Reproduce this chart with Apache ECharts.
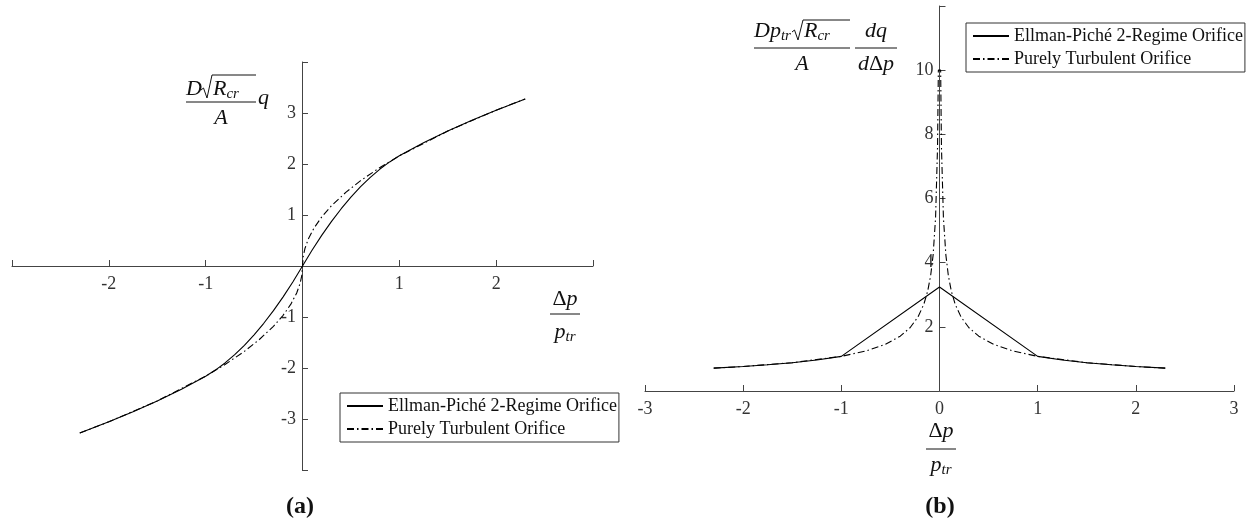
<!DOCTYPE html>
<html>
<head>
<meta charset="utf-8">
<script src="https://cdn.jsdelivr.net/npm/echarts@6/dist/echarts.min.js"></script>
<style>
  html, body { margin: 0; padding: 0; background: #ffffff; }
  #chart { width: 1256px; height: 529px; }
</style>
</head>
<body>
<div id="chart"></div>
<script>
// Series names
const NAME_EP = 'Ellman-Piché 2-Regime Orifice';
const NAME_TURB = 'Purely Turbulent Orifice';

// (a) normalised flow rate vs normalised pressure drop
const flowEpX = [-2.3, -2, -1.75, -1.5, -1.25, -1, -0.9, -0.8, -0.7, -0.6, -0.5, -0.4, -0.3, -0.2, -0.1, 0,
                 0.1, 0.2, 0.3, 0.4, 0.5, 0.6, 0.7, 0.8, 0.9, 1, 1.25, 1.5, 1.75, 2, 2.3];
const flowEpY = [-3.276, -3.055, -2.857, -2.645, -2.415, -2.16, -2.041, -1.901, -1.739, -1.555, -1.35, -1.123, -0.875, -0.605, -0.313, 0,
                 0.313, 0.605, 0.875, 1.123, 1.35, 1.555, 1.739, 1.901, 2.041, 2.16, 2.415, 2.645, 2.857, 3.055, 3.276];
const flowTurbX = [-2.3, -2, -1.5, -1, -0.8, -0.6, -0.45, -0.3, -0.2, -0.12, -0.06, -0.025, -0.008, 0,
                   0.008, 0.025, 0.06, 0.12, 0.2, 0.3, 0.45, 0.6, 0.8, 1, 1.5, 2, 2.3];
const flowTurbY = [-3.276, -3.055, -2.645, -2.16, -1.932, -1.673, -1.449, -1.183, -0.966, -0.748, -0.529, -0.342, -0.193, 0,
                   0.193, 0.342, 0.529, 0.748, 0.966, 1.183, 1.449, 1.673, 1.932, 2.16, 2.645, 3.055, 3.276];

// (b) normalised flow gain dq/dΔp
const gainEpX = [-2.3, -2, -1.75, -1.5, -1.25, -1, 0, 1, 1.25, 1.5, 1.75, 2, 2.3];
const gainEpY = [0.712, 0.764, 0.816, 0.882, 0.966, 1.08, 3.24, 1.08, 0.966, 0.882, 0.816, 0.764, 0.712];
const gainTurbX = [-2.3, -2, -1.5, -1, -0.75, -0.55, -0.4, -0.3, -0.22, -0.16, -0.12, -0.09, -0.065, -0.04, -0.02, -0.0117,
                   0.0117, 0.02, 0.04, 0.065, 0.09, 0.12, 0.16, 0.22, 0.3, 0.4, 0.55, 0.75, 1, 1.5, 2, 2.3];
const gainTurbY = [0.712, 0.764, 0.882, 1.08, 1.247, 1.456, 1.708, 1.972, 2.303, 2.7, 3.118, 3.6, 4.236, 5.4, 7.6, 10.0,
                   10.0, 7.6, 5.4, 4.236, 3.6, 3.118, 2.7, 2.303, 1.972, 1.708, 1.456, 1.247, 1.08, 0.882, 0.764, 0.712];

// Labelled ticks on each axis
const ticksAx = [-2, -1, 1, 2];
const ticksAy = [-3, -2, -1, 1, 2, 3];
const ticksBx = [-3, -2, -1, 0, 1, 2, 3];
const ticksBy = [2, 4, 6, 8, 10];

const zip = (xs, ys) => xs.map((x, i) => [x, ys[i]]);

const SERIF = 'Liberation Serif';
const INK = '#111';
const AXIS = '#444';
const DASH_DOT = [7, 3, 1.5, 3];

function labelFrom(list) {
  return v => (list.indexOf(Math.round(v * 1000) / 1000) >= 0 ? String(v) : '');
}

// Value axis whose line, ticks and labels are shifted into the plot (crossing axes)
function valueAxis(gridIndex, min, max, interval, list, isX, position, offset) {
  return {
    type: 'value', gridIndex, min, max, interval, position, offset,
    axisLine: { show: true, onZero: false, lineStyle: { color: AXIS, width: 1 } },
    axisTick: { show: true, inside: true, length: 6, lineStyle: { color: AXIS, width: 1 } },
    axisLabel: {
      formatter: labelFrom(list), fontFamily: SERIF, fontSize: 18, color: '#333',
      margin: isX ? 9 : 6, showMinLabel: true, showMaxLabel: true
    },
    splitLine: { show: false }
  };
}

function lineSeries(name, data, xi, dashed) {
  return {
    name, type: 'line', xAxisIndex: xi, yAxisIndex: xi, data,
    symbol: 'none', smooth: false, silent: true,
    itemStyle: { color: '#000' },
    lineStyle: { color: '#000', width: 1.1, type: dashed ? DASH_DOT : 'solid' },
    z: dashed ? 2 : 3
  };
}

// Rich text styles for the axis-name formulas
const RICH = {
  i: { fontFamily: SERIF, fontStyle: 'italic', fontSize: 22, lineHeight: 26, fill: INK },
  u: { fontFamily: SERIF, fontSize: 22, lineHeight: 26, fill: INK },
  s: { fontFamily: SERIF, fontStyle: 'italic', fontSize: 15, lineHeight: 15, verticalAlign: 'bottom', fill: INK }
};

function mathText(text, x, y, align) {
  return {
    type: 'text', x, y, silent: true,
    style: { text, rich: RICH, align: align || 'left', verticalAlign: 'middle', fill: INK,
             fontFamily: SERIF, fontSize: 22 }
  };
}
function rule(x1, x2, y) {
  return { type: 'line', silent: true, shape: { x1, y1: y, x2, y2: y }, style: { stroke: INK, lineWidth: 1 } };
}
function radical(x, yMid, yTop, xEnd) {
  return {
    type: 'polyline', silent: true,
    shape: { points: [[x, yMid + 1], [x + 2.5, yMid - 1], [x + 6, yMid + 9], [x + 11, yTop], [xEnd, yTop]] },
    style: { stroke: INK, lineWidth: 1, fill: null }
  };
}
function caption(text, x, y) {
  return {
    type: 'text', x, y, silent: true,
    style: { text, fontFamily: SERIF, fontWeight: 'bold', fontSize: 24, fill: INK, align: 'center', verticalAlign: 'middle' }
  };
}

const legendBase = {
  orient: 'vertical', data: [NAME_EP, NAME_TURB],
  backgroundColor: '#fff', borderColor: '#333', borderWidth: 1, borderRadius: 0,
  padding: [4, 2, 4, 6], itemWidth: 36, itemHeight: 14, itemGap: 5,
  selectedMode: false,
  itemStyle: { color: 'rgba(0,0,0,0)', borderColor: 'rgba(0,0,0,0)', borderWidth: 0 },
  textStyle: { fontFamily: SERIF, fontSize: 18, color: INK }
};

const option = {
  animation: false,
  backgroundColor: '#fff',
  grid: [
    { left: 12, top: 62, width: 581, height: 408, containLabel: false, outerBoundsMode: 'none' },
    { left: 645, top: 6, width: 589, height: 385, containLabel: false, outerBoundsMode: 'none' }
  ],
  xAxis: [
    valueAxis(0, -3, 3, 1, ticksAx, true, 'bottom', -204),
    valueAxis(1, -3, 3, 1, ticksBx, true, 'bottom', 0)
  ],
  yAxis: [
    valueAxis(0, -4, 4, 1, ticksAy, false, 'left', -290),
    valueAxis(1, 0, 12, 2, ticksBy, false, 'left', -294.5)
  ],
  legend: [
    Object.assign({}, legendBase, { left: 340, top: 393 }),
    Object.assign({}, legendBase, { left: 966, top: 23 })
  ],
  series: [
    lineSeries(NAME_TURB, zip(flowTurbX, flowTurbY), 0, true),
    lineSeries(NAME_EP, zip(flowEpX, flowEpY), 0, false),
    lineSeries(NAME_TURB, zip(gainTurbX, gainTurbY), 1, true),
    lineSeries(NAME_EP, zip(gainEpX, gainEpY), 1, false)
  ],
  graphic: [
    // (a) vertical axis name: D sqrt(R_cr) / A * q
    mathText('{i|D}', 186, 89),
    radical(201, 89, 75, 256),
    mathText('{i|R}{s|cr}', 213, 89),
    rule(186, 256, 102),
    mathText('{i|A}', 221, 118, 'center'),
    mathText('{i|q}', 258, 98),
    // (a) horizontal axis name: Δp / p_tr
    mathText('{u|Δ}{i|p}', 565, 299, 'center'),
    rule(550, 580, 314),
    mathText('{i|p}{s|tr}', 565, 332, 'center'),
    // (b) vertical axis name: D p_tr sqrt(R_cr) / A * dq / dΔp
    mathText('{i|Dp}{s|tr}', 754, 31),
    radical(792, 31, 20, 850),
    mathText('{i|R}{s|cr}', 804, 31),
    rule(754, 850, 48),
    mathText('{i|A}', 802, 64, 'center'),
    mathText('{i|dq}', 876, 31, 'center'),
    rule(855, 897, 48),
    mathText('{i|d}{u|Δ}{i|p}', 876, 64, 'center'),
    // (b) horizontal axis name
    mathText('{u|Δ}{i|p}', 941, 431, 'center'),
    rule(926, 956, 449),
    mathText('{i|p}{s|tr}', 941, 465, 'center'),
    // panel captions
    caption('(a)', 300, 507),
    caption('(b)', 940, 507)
  ]
};

const chart = echarts.init(document.getElementById('chart'), null, { renderer: 'canvas' });
chart.setOption(option);
</script>
</body>
</html>
